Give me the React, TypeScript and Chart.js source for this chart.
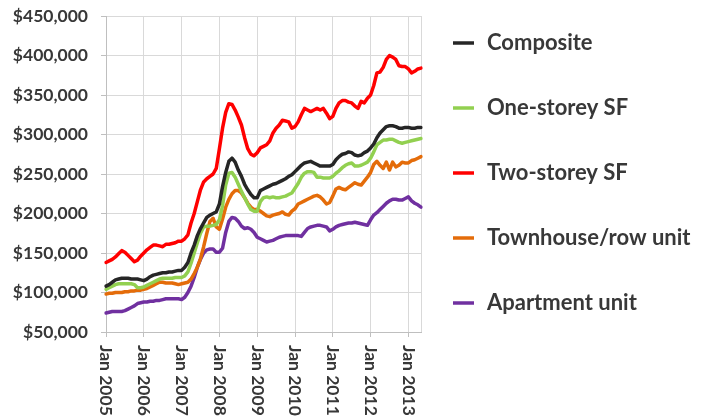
import React, { useEffect, useRef } from "react";
import { Chart, registerables } from "chart.js";

Chart.register(...registerables);

// ---------- DATA (values in thousands of dollars) ----------
const years = [2005, 2006, 2007, 2008, 2009, 2010, 2011, 2012, 2013];
const monthNames = ["Jan", "Feb", "Mar", "Apr", "May", "Jun", "Jul", "Aug", "Sep", "Oct", "Nov", "Dec"];
const monthsIn2013 = 5;
const categories: string[] = years.flatMap((y) =>
  monthNames.slice(0, y === 2013 ? monthsIn2013 : 12).map((m) => `${m} ${y}`)
);

const seriesNames = ["Composite", "One-storey SF", "Two-storey SF", "Townhouse/row unit", "Apartment unit"];
const seriesColors = ["#262626", "#92D050", "#FF0000", "#E46C0A", "#7030A0"];

const composite = [
  108, 110, 113, 116, 117, 118, 118, 118, 117, 117, 117, 116,
  115, 117, 120, 122, 123, 124, 125, 125, 126, 126, 127, 128,
  128, 132, 138, 150, 160, 172, 181, 188, 195, 198, 200, 202,
  212, 234, 252, 266, 270, 265, 255, 247, 237, 230, 224, 220,
  220, 229, 231, 233, 235, 237, 238, 240, 242, 244, 247, 249,
  253, 257, 261, 264, 265, 266, 264, 262, 260, 260, 260, 260,
  262, 268, 272, 275, 276, 278, 277, 274, 273, 274, 277, 279,
  283, 288, 296, 302, 306, 310, 311, 311, 310, 308, 308, 309,
  309, 308, 308, 309, 309,
];
const oneStorey = [
  104, 106, 108, 110, 111, 111, 111, 111, 111, 110, 106, 106,
  107, 109, 111, 113, 115, 117, 118, 118, 118, 118, 119, 119,
  119, 121, 126, 137, 150, 163, 175, 183, 184, 184, 185, 186,
  192, 210, 236, 251, 252, 246, 237, 228, 220, 212, 205, 203,
  203, 215, 220, 221, 220, 221, 220, 220, 221, 222, 224, 226,
  232, 238, 246, 251, 253, 253, 252, 246, 246, 245, 245, 245,
  247, 251, 254, 258, 261, 263, 264, 260, 260, 261, 263, 265,
  270, 278, 287, 290, 293, 293, 294, 294, 292, 290, 289, 290,
  291, 292, 293, 294, 295,
];
const twoStorey = [
  138, 140, 142, 145, 149, 153, 151, 147, 143, 139, 141, 146,
  150, 154, 157, 160, 160, 159, 158, 161, 161, 162, 163, 165,
  165, 168, 173, 188, 200, 215, 230, 240, 244, 247, 250, 257,
  282, 308, 328, 339, 338, 331, 322, 312, 296, 282, 275, 273,
  277, 283, 285, 287, 292, 302, 308, 312, 318, 317, 316, 308,
  310, 316, 325, 333, 331, 329, 331, 333, 331, 333, 327, 320,
  323, 333, 340, 343, 343, 341, 340, 336, 333, 342, 340, 346,
  350, 362, 378, 379, 385, 395, 400, 398, 395, 387, 386, 386,
  383, 378, 380, 383, 384,
];
const townhouse = [
  98, 99, 99, 100, 100, 100, 101, 101, 102, 102, 103, 103,
  104, 105, 107, 109, 111, 113, 113, 112, 112, 112, 111, 110,
  111, 112, 113, 117, 124, 132, 143, 158, 175, 190, 194, 183,
  180, 193, 208, 218, 225, 229, 229, 226, 220, 213, 208, 205,
  205, 203, 200, 197, 196, 198, 199, 200, 202, 199, 198, 203,
  206, 212, 214, 216, 218, 220, 222, 223, 221, 217, 212, 214,
  222, 231, 233, 231, 230, 233, 236, 239, 237, 236, 241, 246,
  252, 262, 266, 261, 257, 265, 255, 265, 259, 261, 265, 264,
  264, 267, 268, 270, 272,
];
const apartment = [
  74, 75, 76, 76, 76, 76, 77, 79, 81, 83, 86, 87,
  88, 88, 89, 89, 90, 90, 91, 92, 92, 92, 92, 92,
  91, 94, 100, 108, 119, 132, 142, 150, 154, 155, 155, 151,
  151, 156, 176, 190, 195, 194, 190, 184, 181, 182, 180, 176,
  170, 168, 166, 164, 165, 166, 168, 170, 171, 172, 172, 172,
  172, 172, 171, 176, 181, 183, 184, 185, 185, 184, 183, 178,
  180, 183, 185, 186, 187, 188, 188, 189, 188, 187, 186, 185,
  192, 198, 201, 205, 209, 213, 216, 218, 218, 217, 217, 219,
  221, 216, 213, 211, 208,
];
const seriesValues = [composite, oneStorey, twoStorey, townhouse, apartment];

const yMin = 50;
const yMax = 450;
const yStep = 50;
const labelEvery = 12;

// ---------- STYLE ----------
const W = 712;
const H = 419;
const textColor = "#383838";
const gridColor = "#D9D9D9";
const tickMarkColor = "#BFBFBF";
const fontFamily = "Lato, 'Open Sans', sans-serif";
const tickFontSize = 17.5;
const legendFontSize = 22;
const lineWidth = 3.5;

const customText = {
  id: "customText",
  afterDraw(chart: any) {
    const ctx = chart.ctx as CanvasRenderingContext2D;
    const xs = chart.scales.x;
    ctx.save();
    ctx.fillStyle = textColor;
    ctx.font = `bold ${tickFontSize}px ${fontFamily}`;
    ctx.textAlign = "left";
    ctx.textBaseline = "middle";
    (chart.data.labels as string[]).forEach((lab, i) => {
      if (i % labelEvery !== 0) return;
      const x = xs.getPixelForTick(i);
      ctx.save();
      ctx.translate(x, chart.chartArea.bottom + 13);
      ctx.rotate(Math.PI / 2);
      ctx.fillText(lab, 0, 0);
      ctx.restore();
    });
    // legend
    const lx = chart.chartArea.right + 32;
    const top = 43;
    const gap = 65;
    ctx.font = `bold ${legendFontSize}px ${fontFamily}`;
    chart.data.datasets.forEach((ds: any, i: number) => {
      const y = top + i * gap;
      ctx.strokeStyle = ds.borderColor;
      ctx.lineWidth = lineWidth;
      ctx.beginPath();
      ctx.moveTo(lx, y);
      ctx.lineTo(lx + 21, y);
      ctx.stroke();
      ctx.fillStyle = textColor;
      ctx.textAlign = "left";
      ctx.textBaseline = "middle";
      ctx.fillText(ds.label, lx + 34, y);
    });
    ctx.restore();
  },
};

export default function App() {
  const ref = useRef<HTMLCanvasElement | null>(null);
  useEffect(() => {
    if (!ref.current) return;
    const n = categories.length;
    const chart = new Chart(ref.current, {
      type: "line",
      data: {
        labels: categories,
        datasets: seriesNames.map((name, i) => ({
          label: name,
          data: seriesValues[i],
          borderColor: seriesColors[i],
          backgroundColor: seriesColors[i],
          borderWidth: lineWidth,
          pointRadius: 0,
          tension: 0,
          borderJoinStyle: "round" as const,
          borderCapStyle: "round" as const,
        })),
      },
      options: {
        responsive: false,
        animation: false,
        layout: { padding: { top: 16, right: W - 421, left: 0, bottom: 0 } },
        plugins: { legend: { display: false }, tooltip: { enabled: false } },
        scales: {
          x: {
            type: "category",
            offset: false,
            grid: {
              color: (c: any) => (c.index % labelEvery === 0 || c.index === n - 1 ? gridColor : "rgba(0,0,0,0)"),
              tickColor: (c: any) => (c.index % labelEvery === 0 ? tickMarkColor : "rgba(0,0,0,0)"),
              drawTicks: true,
              tickLength: 5,
              lineWidth: 1,
            },
            border: { display: true, color: tickMarkColor },
            ticks: { display: false, autoSkip: false },
            afterFit: (s: any) => {
              s.height = 87;
              s.paddingLeft = 0;
              s.paddingRight = 0;
            },
          },
          y: {
            min: yMin,
            max: yMax,
            ticks: {
              stepSize: yStep,
              padding: 13,
              color: textColor,
              font: { family: fontFamily, size: tickFontSize, weight: "bold" },
              callback: (v: any) => "$" + (Number(v) * 1000).toLocaleString("en-US"),
            },
            grid: { color: gridColor, tickColor: tickMarkColor, drawTicks: true, tickLength: 5, lineWidth: 1 },
            border: { display: true, color: tickMarkColor },
            afterFit: (s: any) => {
              s.width = 106;
              s.paddingTop = 0;
              s.paddingBottom = 0;
            },
          },
        },
      },
      plugins: [customText],
    });
    return () => chart.destroy();
  }, []);
  return (
    <div style={{ position: "absolute", left: 0, top: 0, width: W, height: H, background: "#fff" }}>
      <canvas ref={ref} width={W} height={H} style={{ display: "block" }} />
    </div>
  );
}
